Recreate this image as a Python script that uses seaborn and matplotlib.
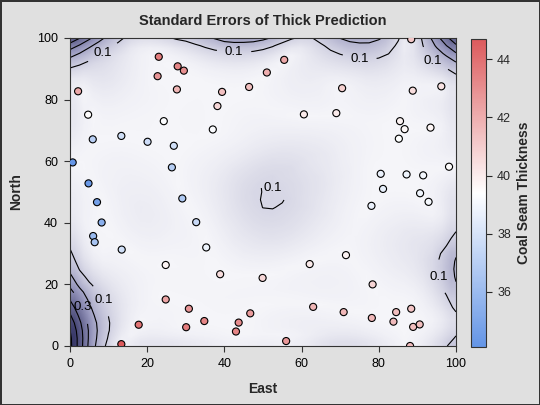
'''
Standard errors of kriged coal seam thickness, with the observations on top
'''

import numpy as np
import pandas as pd
import matplotlib
matplotlib.use('Agg')
import matplotlib.pyplot as plt
from matplotlib.colors import LinearSegmentedColormap, Normalize
import seaborn as sns

# Observed sample locations and thickness
east = [0.7, 2.1, 4.7, 4.8, 5.9, 6.0, 6.4, 7.0, 8.2, 13.3, 13.3, 13.4, 17.8, 20.1,
        22.7, 23.0, 24.3, 24.8, 24.8, 26.4, 26.9, 27.7, 27.9, 29.1, 29.5, 30.1,
        30.8, 32.7, 34.8, 35.3, 37.0, 38.2, 38.9, 39.4, 43.0, 43.7, 46.4, 46.7,
        49.9, 51.0, 55.5, 56.0, 60.6, 62.1, 63.0, 69.0, 70.5, 70.9,
        71.5, 78.1, 78.2, 78.4, 80.5, 81.1, 83.8, 84.5, 85.2, 85.5, 86.7, 87.2,
        88.1, 88.4, 88.4, 88.8, 88.9, 90.6, 90.7, 91.5, 92.9, 93.4, 96.2, 98.2]
north = [59.6, 82.7, 75.1, 52.8, 67.1, 35.7, 33.7, 46.7, 40.1, 0.6, 68.2, 31.3, 6.9, 66.3,
         87.6, 93.9, 73.0, 15.1, 26.3, 58.0, 65.0, 83.3, 90.8, 47.9, 89.4, 6.1,
         12.1, 40.2, 8.1, 32.0, 70.3, 77.9, 23.3, 82.5, 4.7, 7.6, 84.1, 10.6,
         22.1, 88.8, 92.9, 1.6, 75.2, 26.6, 12.7, 75.6, 83.7, 11.0,
         29.5, 45.5, 9.1, 20.0, 55.9, 51.0, 7.9, 11.0, 67.3, 73.0, 70.4, 55.7,
         0.0, 12.1, 99.6, 82.9, 6.2, 7.0, 49.6, 55.4, 46.8, 70.9, 84.3, 58.2]
thick = [34.1, 42.2, 39.5, 34.3, 37.0, 35.9, 36.4, 34.6, 35.4, 44.7, 37.8, 37.8, 43.9, 37.7,
         42.8, 43.6, 39.3, 42.3, 39.7, 36.9, 37.8, 41.8, 43.3, 36.7, 43.0, 43.6,
         42.8, 37.5, 43.3, 38.8, 39.2, 40.7, 40.5, 41.4, 43.3, 43.1, 41.5, 42.6,
         40.7, 42.0, 42.2, 42.7, 40.1, 40.1, 41.8, 40.1, 40.9, 41.7,
         39.8, 38.7, 41.7, 40.8, 38.7, 38.6, 41.6, 41.5, 39.4, 39.8, 39.6, 38.8,
         41.6, 41.3, 41.2, 40.5, 41.5, 41.5, 38.9, 39.0, 39.1, 39.7, 40.3, 39.5]

df = pd.DataFrame({'East': east, 'North': north, 'Thick': thick})

# Gaussian covariance model and neighbourhood used for the kriging
sill = 7.2881
cov_range = 30.6239
radius = 60
grid_step = 2.5
se_levels = [0.1, 0.2, 0.3, 0.4, 0.5, 0.6, 0.7, 0.8, 0.9, 1.0]
label_levels = [0.1, 0.3]


def cov(d):
    return sill * np.exp(-(d / cov_range) ** 2)


# Ordinary kriging standard errors on the prediction grid
pts = df[['East', 'North']].to_numpy()
gx = np.arange(0, 100 + grid_step / 2, grid_step)
gy = np.arange(0, 100 + grid_step / 2, grid_step)
GX, GY = np.meshgrid(gx, gy)
se = np.zeros(GX.shape)
for i in range(GX.shape[0]):
    for j in range(GX.shape[1]):
        d0 = np.hypot(pts[:, 0] - GX[i, j], pts[:, 1] - GY[i, j])
        near = d0 <= radius
        p = pts[near]
        m = len(p)
        dpp = np.hypot(p[:, None, 0] - p[None, :, 0], p[:, None, 1] - p[None, :, 1])
        A = np.ones((m + 1, m + 1))
        A[:m, :m] = cov(dpp) + np.eye(m) * 1e-7
        A[m, m] = 0.0
        b = np.ones(m + 1)
        b[:m] = cov(d0[near])
        w = np.linalg.solve(A, b)
        se[i, j] = np.sqrt(max(sill - w @ b, 0.0))

# Colours
bg = '#e0e0e0'
se_cmap = LinearSegmentedColormap.from_list(
    'se', [(0.0, '#f5f5f9'), (0.12, '#dedeea'), (0.5, '#9797bd'), (1.0, '#3a3a6a')])
thick_cmap = LinearSegmentedColormap.from_list('thick', ['#6495e6', '#ffffff', '#dc5a5c'])
tnorm = Normalize(vmin=min(thick), vmax=max(thick))

sns.set_style('ticks')
plt.rcParams['font.family'] = ['Liberation Sans', 'DejaVu Sans']

fig = plt.figure(figsize=(5.4, 4.05), dpi=100, facecolor=bg)
ax = fig.add_axes([0.1296, 0.1457, 0.7148, 0.7605])
cax = fig.add_axes([0.872, 0.143, 0.028, 0.761])

ax.imshow(se, origin='lower', extent=[0, 100, 0, 100], cmap=se_cmap,
          vmin=0, vmax=se.max(), interpolation='bilinear', aspect='auto')
cs = ax.contour(GX, GY, se, levels=se_levels, colors='black', linewidths=0.8)
labels = ax.clabel(cs, levels=label_levels, fmt='%.1f', fontsize=9.5, inline=True,
                   inline_spacing=8)
for t in labels:
    t.set_rotation(0)

sns.scatterplot(data=df, x='East', y='North', hue='Thick', palette=thick_cmap,
                hue_norm=tnorm, s=26, edgecolor='black', linewidth=0.8,
                legend=False, ax=ax, zorder=5)

ax.set_xlim(0, 100)
ax.set_ylim(0, 100)
ax.set_xticks([0, 20, 40, 60, 80, 100])
ax.set_yticks([0, 20, 40, 60, 80, 100])
ax.tick_params(labelsize=9, length=4.5, width=0.8, pad=4, colors='#333333', labelcolor='black')
ax.set_xlabel('East', fontsize=10, fontweight='bold', labelpad=9)
ax.set_ylabel('North', fontsize=10, fontweight='bold', labelpad=10)
for s in ax.spines.values():
    s.set_visible(True)
    s.set_color('#333333')

sm = plt.cm.ScalarMappable(cmap=thick_cmap, norm=tnorm)
cb = fig.colorbar(sm, cax=cax)
cb.set_ticks([36, 38, 40, 42, 44])
cb.ax.tick_params(labelsize=9, length=4.5, width=0.8)
cb.outline.set_edgecolor('#333333')
cb.set_label('Coal Seam Thickness', fontsize=10, fontweight='bold')

fig.suptitle('Standard Errors of Thick Prediction', fontsize=10.5, fontweight='bold',
             x=0.487, y=0.965)

fig.patch.set_edgecolor('#333333')
fig.patch.set_linewidth(2)
fig.savefig('out.png', dpi=100, facecolor=bg, edgecolor=fig.get_edgecolor())
